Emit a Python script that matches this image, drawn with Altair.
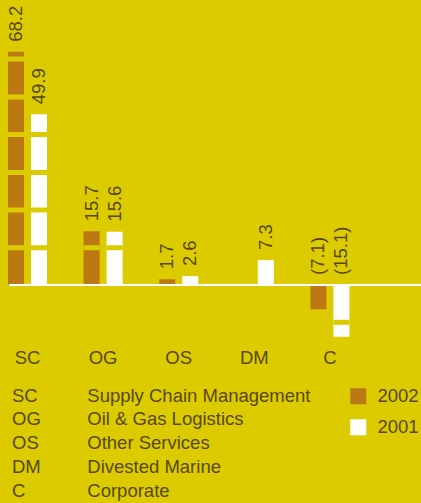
import altair as alt
import pandas as pd

# ---- data ----
categories = ["SC", "OG", "OS", "DM", "C"]
names = ["Supply Chain Management", "Oil & Gas Logistics", "Other Services",
         "Divested Marine", "Corporate"]
years = ["2002", "2001"]
values_2002 = [68.2, 15.7, 1.7, None, -7.1]
values_2001 = [49.9, 15.6, 2.6, 7.3, -15.1]
stripe_levels = [10.9, 21.9, 32.9, 44.0, 55.0, 66.1]   # segment breaks in the bars

# ---- styles ----
BG = "#dccb00"
BROWN = "#bc7812"
WHITE = "#ffffff"
TXT = "#574819"
FONT = "Liberation Sans"
FS = 18.5
GAP = 0.73  # half thickness of bar breaks (data units)

rows = []
for c, v2, v1 in zip(categories, values_2002, values_2001):
    for y, v in (("2002", v2), ("2001", v1)):
        if v is not None:
            rows.append({"Cat": c, "Year": y, "Value": v})
bars_df = pd.DataFrame(rows)

stripe_rows = []
for r in rows:
    for lv in stripe_levels:
        if lv < abs(r["Value"]):
            s = lv if r["Value"] > 0 else -lv
            stripe_rows.append({"Cat": r["Cat"], "Year": r["Year"], "lo": s - GAP, "hi": s + GAP})
stripes_df = pd.DataFrame(stripe_rows)

table_rows = []
for a, n in zip(categories, names):
    table_rows.append({"row": a, "col": "abbr", "text": a})
    table_rows.append({"row": a, "col": "name", "text": n})
table_df = pd.DataFrame(table_rows)

xscale = alt.Scale(domain=categories, range=[-10.3, 367.7], paddingInner=0, paddingOuter=0)
xoff_scale = alt.Scale(domain=years, paddingInner=0.304, paddingOuter=0.795)
yscale = alt.Scale(domain=[-63.74, 83.33], nice=False, zero=False)

X = alt.X("Cat:N", scale=xscale, sort=categories,
          axis=alt.Axis(title=None, orient="bottom", offset=-150, ticks=False, tickSize=0,
                        domain=False, labelPadding=10, labelBaseline="alphabetic",
                        labelAngle=0, labelFont=FONT, labelFontSize=FS, labelColor=TXT,
                        grid=False))
XO = alt.XOffset("Year:N", scale=xoff_scale, sort=years)

bars = alt.Chart(bars_df).mark_bar().encode(
    x=X, xOffset=XO,
    y=alt.Y("Value:Q", scale=yscale, axis=None),
    y2=alt.datum(0),
    color=alt.Color("Year:N", sort=years,
                    scale=alt.Scale(domain=years, range=[BROWN, WHITE]),
                    legend=alt.Legend(orient="none", legendX=349, legendY=387, title=None,
                                      symbolType="square", symbolSize=256,
                                      symbolStrokeWidth=0, symbolOpacity=1,
                                      labelFont=FONT, labelFontSize=FS, labelColor=TXT,
                                      rowPadding=12, labelOffset=10)),
)

stripes = alt.Chart(stripes_df).mark_bar(color=BG).encode(
    x=alt.X("Cat:N", scale=xscale, sort=categories),
    xOffset=XO,
    y=alt.Y("lo:Q", scale=yscale),
    y2="hi:Q",
)

zero = alt.Chart(pd.DataFrame({"z": [0]})).mark_rule(color=WHITE, strokeWidth=2).encode(
    y=alt.Y("z:Q", scale=yscale),
    x=alt.value(9), x2=alt.value(421),
)

labels = alt.Chart(bars_df).transform_calculate(
    ypos="max(datum.Value, 0)",
    lab="datum.Value < 0 ? '(' + format(-datum.Value, '.1f') + ')' : format(datum.Value, '.1f')",
).mark_text(angle=270, align="left", baseline="middle", dx=10,
            font=FONT, fontSize=FS, color=TXT).encode(
    x=alt.X("Cat:N", scale=xscale, sort=categories),
    xOffset=XO,
    y=alt.Y("ypos:Q", scale=yscale),
    text="lab:N",
)

main = alt.layer(bars, stripes, zero, labels)

table = alt.Chart(table_df).mark_text(align="left", baseline="alphabetic",
                                      font=FONT, fontSize=FS, color=TXT).encode(
    x=alt.X("col:N", scale=alt.Scale(type="point", domain=["abbr", "name"], range=[12, 87.3],
                                     padding=0), axis=None),
    y=alt.Y("row:N", sort=categories,
            scale=alt.Scale(type="point", domain=categories, range=[401.7, 496.7], padding=0),
            axis=None),
    text="text:N",
)

chart = alt.layer(main, table).resolve_scale(x="independent", y="independent").properties(
    width=421, height=503, padding=0, autosize=alt.AutoSizeParams(type="none"),
    background=BG,
).configure_view(stroke=None)

chart.save("out.html", embed_options={"renderer": "svg", "actions": False})
